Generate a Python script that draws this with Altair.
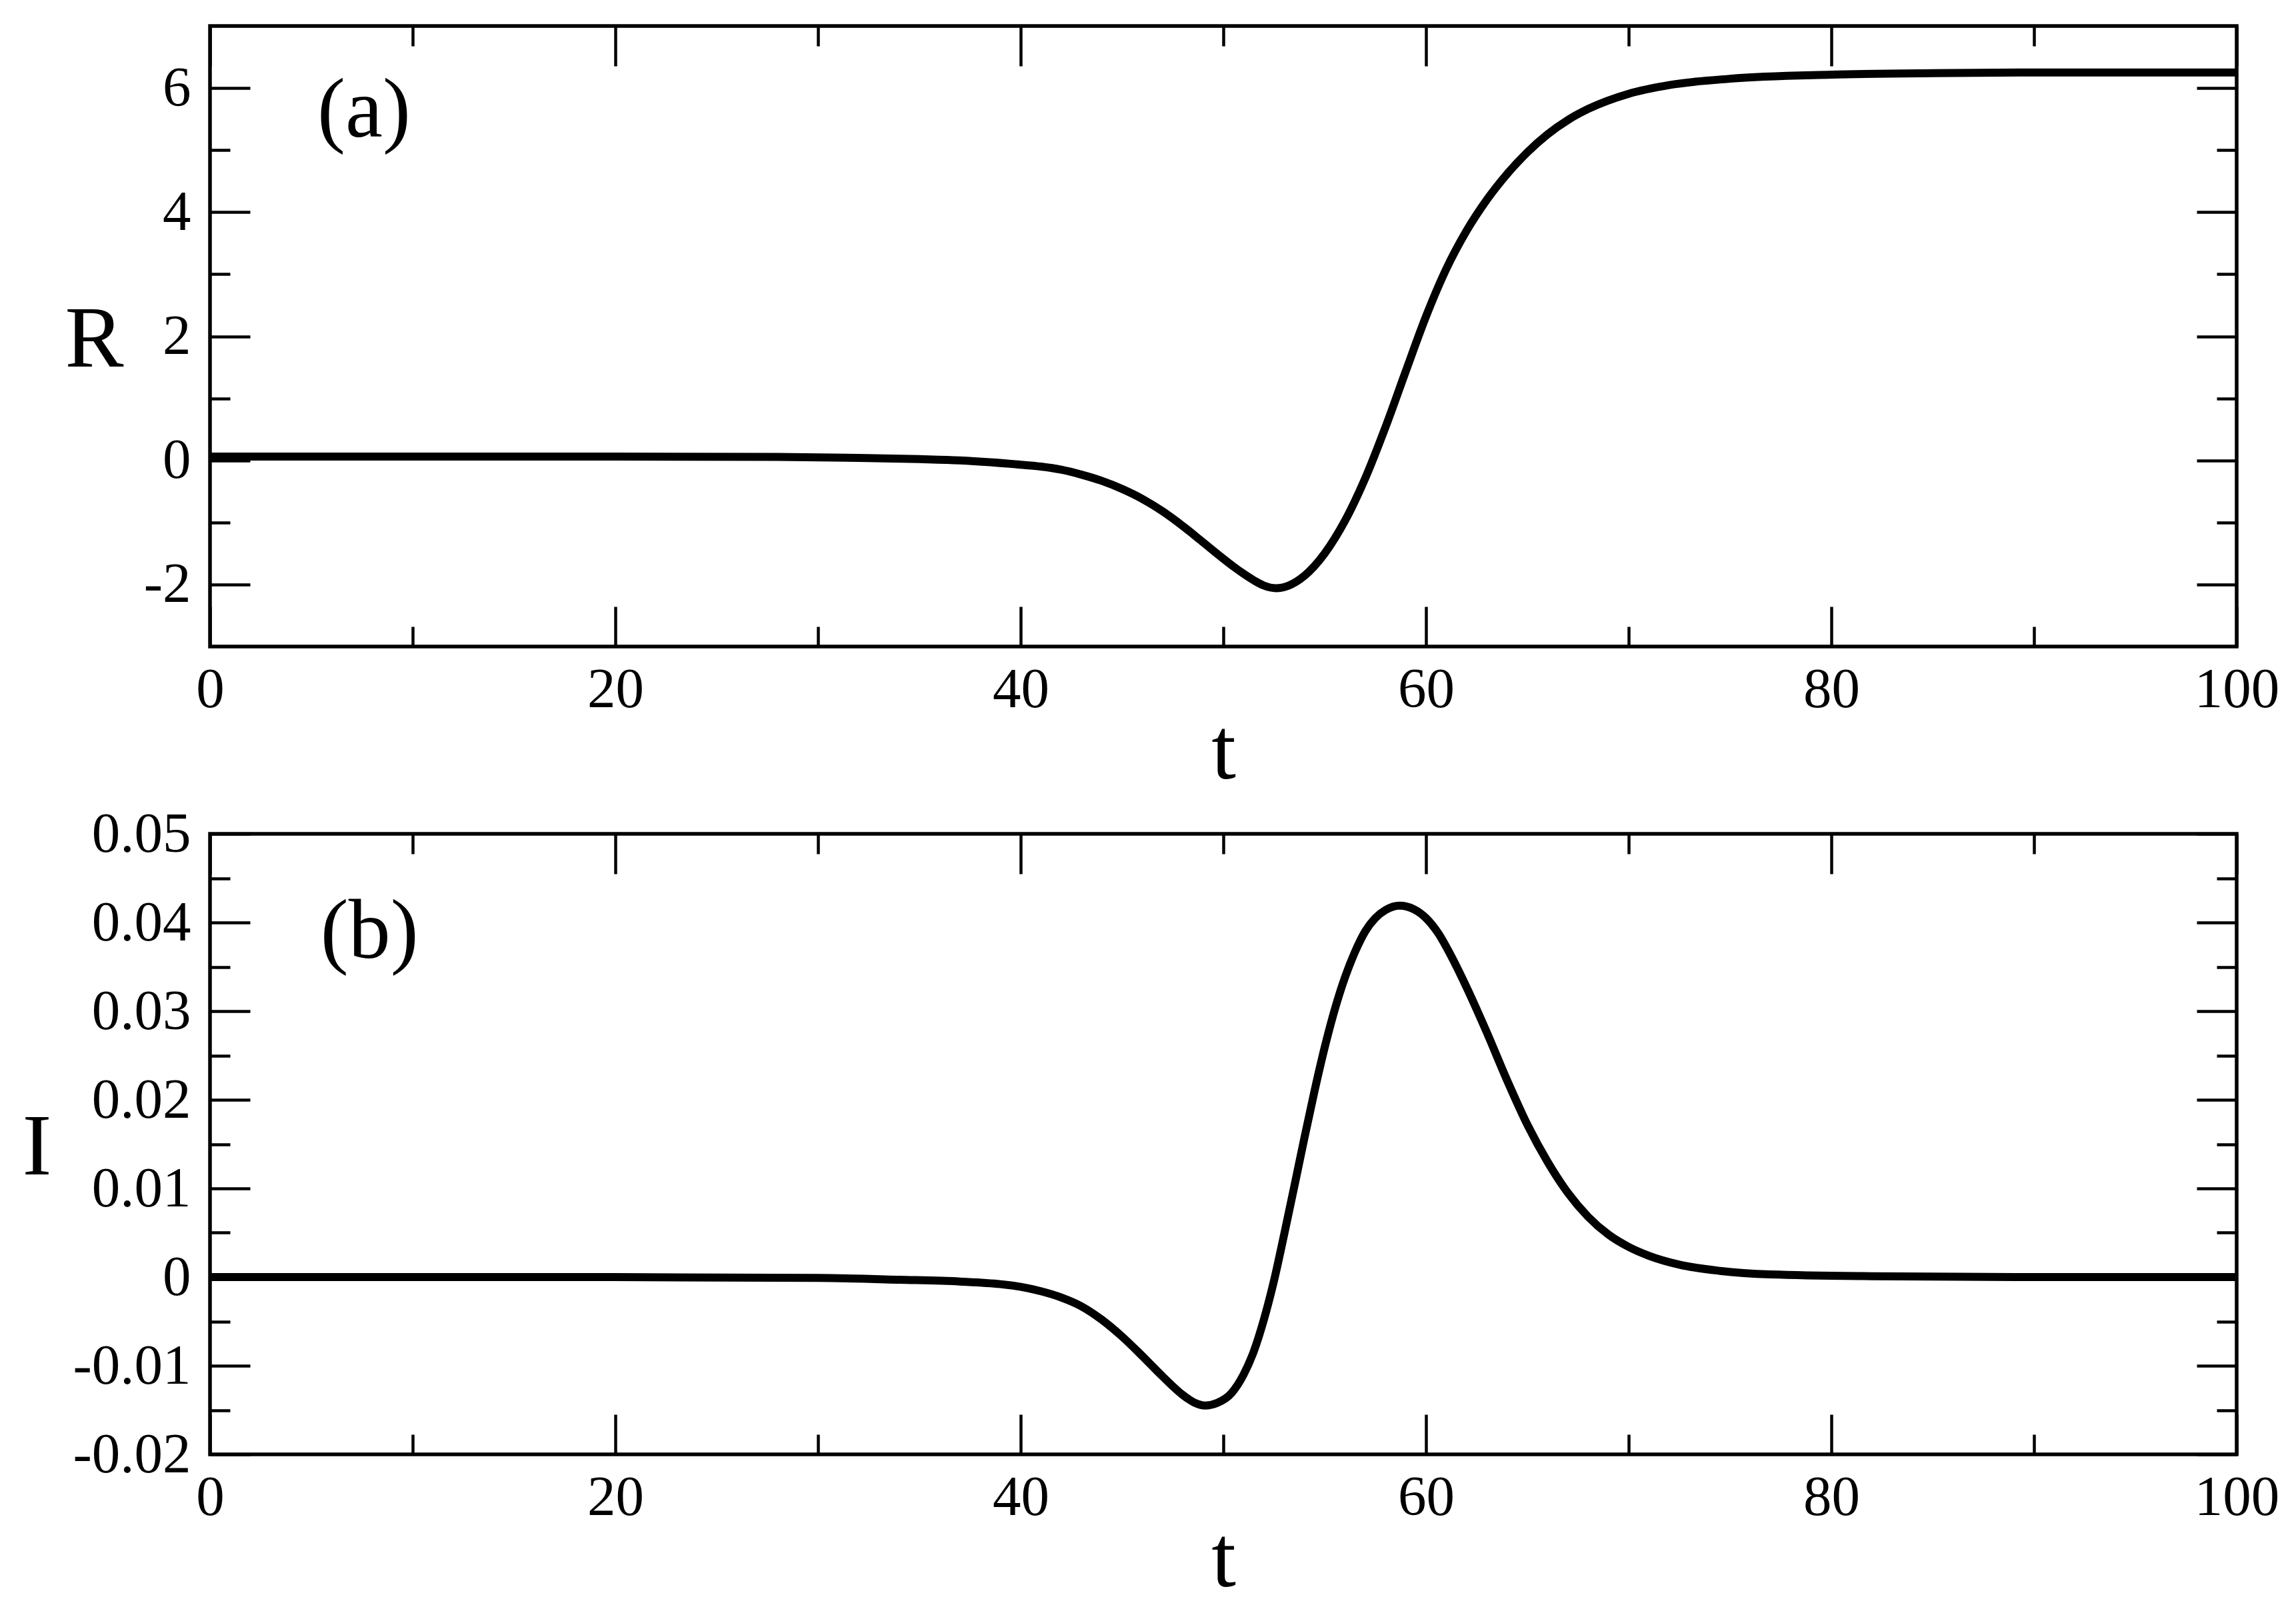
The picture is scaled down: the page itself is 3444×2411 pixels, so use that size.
import altair as alt
import pandas as pd

# ---------------- data ----------------
t_R = [0, 20, 28, 32, 35, 37, 38.5, 40, 41, 42, 43, 44, 45, 46, 47, 48, 49, 50, 50.5, 51, 51.5, 52,
       52.6, 53.2, 54, 55, 56, 57, 58, 59, 60, 61, 62, 63, 64, 65, 66, 67, 68, 70, 72, 75, 80, 85,
       90, 100]
R_vals = [0.06, 0.06, 0.055, 0.04, 0.02, 0.0, -0.03, -0.07, -0.10, -0.15, -0.23, -0.33, -0.46, -0.62,
          -0.82, -1.058, -1.32, -1.585, -1.711, -1.827, -1.932, -2.017, -2.059, -2.02, -1.86, -1.50,
          -0.975, -0.29, 0.535, 1.435, 2.32, 3.085, 3.70, 4.20, 4.615, 4.965, 5.255, 5.485, 5.663,
          5.908, 6.048, 6.15, 6.215, 6.24, 6.25, 6.25]

t_I = [0, 20, 30, 34, 37, 39, 40, 41, 42, 43, 44, 45, 46, 47, 48, 48.6, 49.1, 49.7, 50.4, 51.0, 51.5,
       52.0, 52.5, 53.0, 53.5, 54.0, 54.5, 55.0, 55.5, 56.0, 56.5, 57.0, 57.5, 58.0, 58.7, 59.4, 60.0,
       60.6, 61.2, 62, 63, 64, 65, 66, 67, 68, 69, 70, 71, 72.5, 74.5, 77, 82, 90, 100]
I_vals = [0, 0, -0.0001, -0.0003, -0.0005, -0.0008, -0.0011, -0.0016, -0.0023, -0.0033, -0.0048,
          -0.0067, -0.0089, -0.0112, -0.0133, -0.0142, -0.0145, -0.0142, -0.0131, -0.0110, -0.0084,
          -0.0048, -0.0004, 0.0048, 0.0102, 0.0157, 0.0210, 0.0259, 0.0302, 0.0338, 0.0367, 0.0390,
          0.0405, 0.0414, 0.0419, 0.0415, 0.0405, 0.0388, 0.0364, 0.0327, 0.0276, 0.0222, 0.0172,
          0.0130, 0.0095, 0.0068, 0.0048, 0.0034, 0.0024, 0.0014, 0.0007, 0.0003, 0.0001, 0.0, 0.0]

x_major = [0, 20, 40, 60, 80, 100]
x_minor = [10, 30, 50, 70, 90]
R_domain = [-3, 7]
R_major = [-2, 0, 2, 4, 6]
R_minor = [-1, 1, 3, 5]
I_domain = [-0.02, 0.05]
I_major = [-0.02, -0.01, 0, 0.01, 0.02, 0.03, 0.04, 0.05]
I_minor = [-0.015, -0.005, 0.005, 0.015, 0.025, 0.035, 0.045]

panel_a = {"t": [5.3], "v": [5.22], "txt": ["(a)"]}
panel_b = {"t": [5.45], "v": [0.036], "txt": ["(b)"]}

# ---------------- styling ----------------
W, H = 3040, 931
FONT = "Liberation Serif"
LABEL_FS = 85
TITLE_FS = 132
MAJOR, MINOR = 60, 30
TICK_W = 4.5


def panel(t, v, ydom, ymaj, ymin, ytitle, title_x, lab):
    df = pd.DataFrame({"t": t, "v": v})
    xs = alt.Scale(domain=[0, 100], nice=False, zero=False)
    ys = alt.Scale(domain=ydom, nice=False, zero=False)
    base = alt.Chart(df)

    line = base.mark_line(color="black", strokeWidth=12, interpolate="monotone", clip=True).encode(
        x=alt.X("t:Q", scale=xs, axis=alt.Axis(
            orient="bottom", values=x_major, ticks=False, tickSize=0, domain=False, grid=False,
            labelFont=FONT, labelFontSize=LABEL_FS, labelColor="black", labelPadding=23,
            labelFlush=False, labelOverlap=False, labelExpr="'' + datum.value",
            title="t", titleFont=FONT, titleFontSize=TITLE_FS, titleFontWeight="normal",
            titleColor="black", titleX=W / 2, titleY=197, titleAlign="center",
            titleBaseline="alphabetic")),
        y=alt.Y("v:Q", scale=ys, axis=alt.Axis(
            orient="left", values=ymaj, ticks=False, tickSize=0, domain=False, grid=False,
            labelFont=FONT, labelFontSize=LABEL_FS, labelColor="black", labelPadding=29,
            labelOverlap=False, labelExpr="'' + datum.value",
            title=ytitle, titleFont=FONT, titleFontSize=TITLE_FS, titleFontWeight="normal",
            titleColor="black", titleAngle=0, titleX=title_x, titleY=510, titleAlign="right",
            titleBaseline="alphabetic")),
    )

    def tick_layer(xorient, xvals, yorient, yvals, size):
        return base.mark_line(strokeOpacity=0).encode(
            x=alt.X("t:Q", scale=xs, axis=alt.Axis(
                orient=xorient, offset=-H, values=xvals, labels=False, domain=False, grid=False,
                ticks=True, tickSize=size, tickWidth=TICK_W, tickColor="black", title=None)),
            y=alt.Y("v:Q", scale=ys, axis=alt.Axis(
                orient=yorient, offset=-W, values=yvals, labels=False, domain=False, grid=False,
                ticks=True, tickSize=size, tickWidth=TICK_W, tickColor="black", title=None)),
        )

    ticks = [
        tick_layer("top", x_major, "right", ymaj, MAJOR),
        tick_layer("top", x_minor, "right", ymin, MINOR),
        tick_layer("bottom", x_major, "left", ymaj, MAJOR),
        tick_layer("bottom", x_minor, "left", ymin, MINOR),
    ]

    text = alt.Chart(pd.DataFrame(lab)).mark_text(
        font=FONT, fontSize=126, align="left", baseline="alphabetic", color="black"
    ).encode(
        x=alt.X("t:Q", scale=xs, axis=None),
        y=alt.Y("v:Q", scale=ys, axis=None),
        text="txt:N",
    )

    return alt.layer(*ticks, line, text).resolve_axis(x="independent", y="independent").properties(
        width=W, height=H)


top = panel(t_R, R_vals, R_domain, R_major, R_minor, "R", -130, panel_a)
bottom = panel(t_I, I_vals, I_domain, I_major, I_minor, "I", -238, panel_b)

chart = alt.vconcat(top, bottom, spacing=281, bounds="flush").properties(
    padding={"left": 22, "top": 26, "right": 10, "bottom": 10},
    background="white",
).configure_view(stroke="black", strokeWidth=5.5)

chart.save("out.html", embed_options={"renderer": "svg", "actions": False})
